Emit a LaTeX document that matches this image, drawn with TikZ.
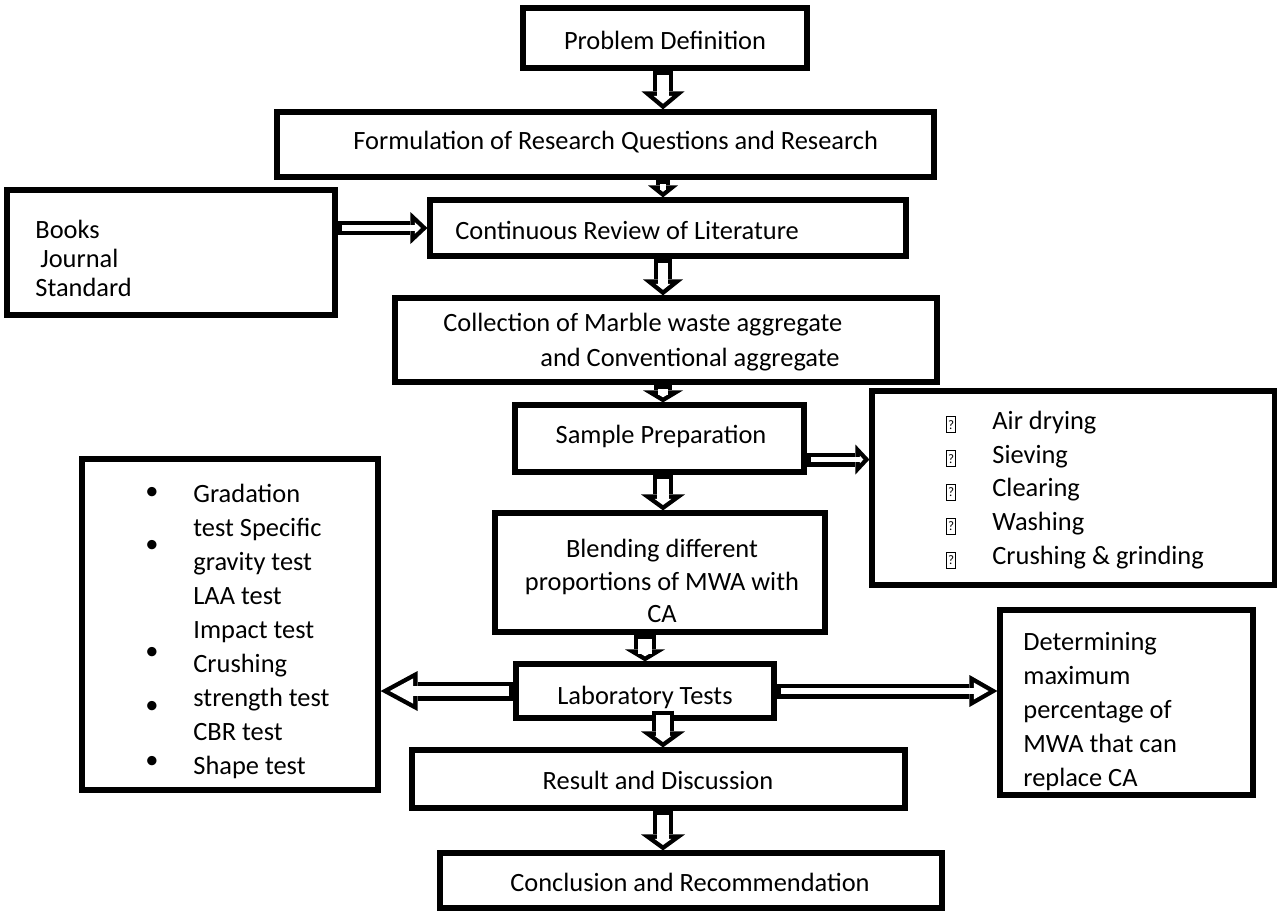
\documentclass[tikz,border=0pt]{standalone}
\usepackage{fontspec}
\setmainfont{Carlito}
\usetikzlibrary{arrows.meta,fit,calc,positioning}

\newcommand\qbox{\makebox[23pt][l]{\setlength\fboxsep{0.5pt}\setlength\fboxrule{0.35pt}\fbox{\rule[-1pt]{0pt}{6.6pt}\fontsize{6.5}{6.5}\selectfont ?}}}

\tikzset{
  box/.style={draw, line width=2.6pt, inner sep=0pt, fill=white},
  txt/.style={inner sep=0pt, anchor=west, align=left},
  hollow/.style n args={3}{
    /utils/exec={%
      \pgfmathsetmacro\arrback{2.2/sin(atan(#2/(2*#3)))}%
      \pgfmathsetmacro\arrlen{max(#3-2.2-\arrback,0.5)}%
      \pgfmathsetmacro\arrwid{#2*\arrlen/#3}%
      \pgfmathsetmacro\arrshaft{max(#1-4.4,0.6)}%
    },
    line width=#1pt,
    -{Triangle[length=#3pt, width=#2pt, line width=0pt]},
    postaction={draw=white, line width=\arrshaft pt, shorten <=2.2pt, shorten >=\arrback pt,
      -{Triangle[length=\arrlen pt, width=\arrwid pt, line width=0pt]}}
  }
}

\begin{document}
\begin{tikzpicture}[x=0.5pt, y=-0.5pt,
  every node/.style={font=\fontsize{13.2}{17}\selectfont}]
\useasboundingbox (0,0) rectangle (1277,912);
\coordinate (axis) at (663,0);

% main column
\node[box, fit={(523,8) (807,68)}] (prob) {};
\node[txt, anchor=center] (probtxt) at (665,40) {Problem Definition};
\node[box, fit={(277,112) (934,177)}] (form) {};
\node[txt] (formtxt) at (353,142) {Formulation of Research Questions and Research};
\node[box, fit={(430,200) (906,256)}] (cont) {};
\node[txt] (conttxt) at (455,230) {Continuous Review of Literature};
\node[box, fit={(395,298) (937,382)}] (coll) {};
\node[txt, font=\fontsize{13.2}{17.5}\selectfont] (colltxt) at (443,342)
  {Collection of Marble waste aggregate\\\hspace*{48.5pt}and Conventional aggregate};
\node[box, fit={(515,405) (804,472)}] (samp) {};
\node[txt, anchor=center] (samptxt) at (661,436) {Sample Preparation};
\node[box, fit={(495,513) (825,632)}] (blend) {};
\node[txt, anchor=center, align=center, font=\fontsize{13.2}{16.25}\selectfont] (blendtxt) at (662,581)
  {Blending different\\proportions of MWA with\\CA};
\node[box, fit={(516,664) (774,718)}] (lab) {};
\node[txt, anchor=center] (labtxt) at (645,697) {Laboratory Tests};
\node[box, fit={(412,750) (905,808)}] (res) {};
\node[txt, anchor=center] (restxt) at (658,780) {Result and Discussion};
\node[box, fit={(440,853) (942,908)}] (conc) {};
\node[txt, anchor=center] (conctxt) at (690,882) {Conclusion and Recommendation};

% side boxes
\node[box, fit={(7,190) (335,315)}] (books) {};
\node[txt, font=\fontsize{13.2}{14.5}\selectfont] (bookstxt) at (35,258)
  {Books\\\hspace*{2.5pt}Journal\\Standard};
\node[box, fit={(872,391) (1275,585)}] (dry) {};
\node[txt, font=\fontsize{13.2}{16.9}\selectfont] (drytxt) at (946,490)
  {\qbox Air drying\\\qbox Sieving\\\qbox Clearing\\\qbox Washing\\\qbox Crushing \& grinding};
\node[box, fit={(82,459) (378,790)}] (tests) {};
\node[txt] (teststxt) at (193,631)
  {Gradation\\test Specific\\gravity test\\LAA test\\Impact test\\Crushing\\strength test\\CBR test\\Shape test};
\foreach \y [count=\i] in {493,546,653,707,762}
  \node[txt] (dot\i) at (145,\y) {\textbullet};
\node[box, fit={(1000,610) (1253,795)}] (det) {};
\node[txt] (dettxt) at (1023,712)
  {Determining\\maximum\\percentage of\\MWA that can\\replace CA};

% arrows
\draw[hollow={10}{21.5}{9}] (prob.south -| axis) -- (form.north -| axis);
\draw[hollow={7}{15}{6}] (form.south -| axis) -- (cont.north -| axis);
\draw[hollow={9}{20}{8}] (cont.south -| axis) -- (coll.north -| axis);
\draw[hollow={9}{20}{6}] (coll.south -| axis) -- (samp.north -| axis);
\draw[hollow={10}{22}{8}] (samp.south -| axis) -- (blend.north -| axis);
\draw[hollow={11}{20}{6}] (blend.south -| lab) -- (lab.north);
\draw[hollow={11}{22}{8}] ($(lab.south -| axis)+(0,-10)$) -- (res.north -| axis);
\draw[hollow={10}{22}{8}] (res.south -| axis) -- (conc.north -| axis);
\draw[hollow={7}{16}{8.5}] (books.east |- cont) -- (cont.west);
\draw[hollow={7}{15}{7}] ($(samp.east)+(0,21)$) -- ($(samp.east -| dry.west)+(0,21)$);
\draw[hollow={9.5}{20}{18.5}] (lab.west) -- (lab.west -| tests.east);
\draw[hollow={7.5}{16}{14}] (lab.east) -- (lab.east -| det.west);
\end{tikzpicture}
\end{document}
